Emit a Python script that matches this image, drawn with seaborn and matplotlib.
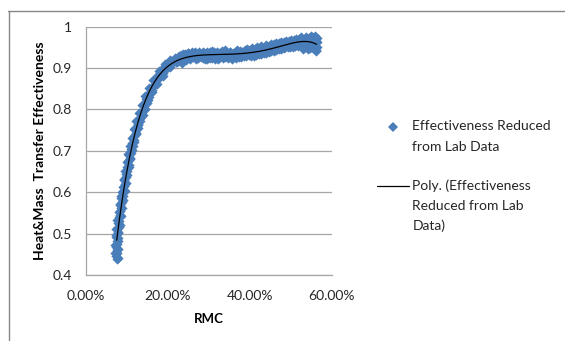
import numpy as np
import pandas as pd
import matplotlib
matplotlib.use("Agg")
import matplotlib.pyplot as plt
from matplotlib.lines import Line2D
from matplotlib.ticker import FuncFormatter
import seaborn as sns

# Lab measurements: regenerator moisture content (RMC, %) vs. effectiveness.
# Rising branch, first pass
rise_rmc_a = [
    7.5, 7.4, 7.6, 7.5, 7.3, 7.6, 7.5, 7.7, 7.4, 7.8, 7.6, 8.0, 7.8, 8.1, 8.0,
    8.3, 8.2, 8.5, 8.4, 8.7, 8.6, 9.0, 8.9, 9.3, 9.2, 9.5, 9.4, 9.8, 9.7, 10.1,
    10.0, 10.4, 10.3, 10.7, 10.6, 11.0, 10.9, 11.4, 11.3, 11.8, 11.7, 12.2,
    12.1, 12.7, 12.6, 13.2, 13.1, 13.8, 13.6, 14.3, 14.1, 14.8, 14.7, 15.5,
    15.3, 16.1, 16.0, 16.9, 16.8, 17.8, 17.6, 18.7, 18.5, 19.7, 19.5, 20.8,
    20.6, 21.9, 21.7,
]
rise_eff_a = [
    0.438, 0.447, 0.452, 0.461, 0.468, 0.474, 0.483, 0.490, 0.497, 0.503,
    0.510, 0.517, 0.525, 0.531, 0.540, 0.546, 0.555, 0.561, 0.570, 0.576,
    0.585, 0.591, 0.600, 0.606, 0.615, 0.621, 0.630, 0.636, 0.645, 0.651,
    0.660, 0.666, 0.675, 0.681, 0.690, 0.696, 0.705, 0.711, 0.720, 0.726,
    0.735, 0.741, 0.750, 0.756, 0.765, 0.771, 0.780, 0.786, 0.795, 0.801,
    0.810, 0.816, 0.825, 0.831, 0.840, 0.846, 0.855, 0.861, 0.870, 0.876,
    0.884, 0.889, 0.897, 0.901, 0.908, 0.911, 0.917, 0.918, 0.924,
]
# Rising branch, second pass
rise_rmc_b = [
    7.8, 7.2, 7.8, 7.2, 7.8, 7.25, 7.9, 7.4, 8.2, 7.65, 8.45, 7.95, 8.8, 8.3,
    9.15, 8.6, 9.45, 8.95, 9.75, 9.25, 10.1, 9.6, 10.45, 9.95, 10.8, 10.3,
    11.2, 10.7, 11.65, 11.15, 12.2, 11.6, 12.8, 12.2, 13.55, 12.9, 14.4, 13.7,
    15.2, 14.5, 16.2, 15.3, 17.3, 16.4, 18.9, 17.8, 20.4, 19.2, 22.0, 20.4,
]
rise_eff_b = [
    0.442, 0.452, 0.462, 0.472, 0.482, 0.492, 0.502, 0.512, 0.522, 0.532,
    0.542, 0.552, 0.562, 0.572, 0.582, 0.592, 0.602, 0.612, 0.622, 0.632,
    0.642, 0.652, 0.662, 0.672, 0.682, 0.692, 0.702, 0.712, 0.722, 0.732,
    0.742, 0.752, 0.762, 0.772, 0.782, 0.792, 0.802, 0.812, 0.822, 0.832,
    0.842, 0.852, 0.862, 0.872, 0.882, 0.892, 0.902, 0.910, 0.915, 0.920,
]
# Plateau, first pass
flat_rmc_a = [
    22.3, 22.6, 22.9, 23.2, 23.5, 23.8, 24.1, 24.4, 24.7, 25.0, 25.3, 25.6,
    25.9, 26.2, 26.5, 26.8, 27.1, 27.4, 27.7, 28.0, 28.3, 28.6, 28.9, 29.2,
    29.5, 29.8, 30.1, 30.4, 30.7, 31.0, 31.3, 31.6, 31.9, 32.2, 32.5, 32.8,
    33.1, 33.4, 33.7, 34.0, 34.3, 34.6, 34.9, 35.2, 35.5, 35.8, 36.1, 36.4,
    36.7, 37.0, 37.3, 37.6, 37.9, 38.2, 38.5, 38.8, 39.1, 39.4, 39.7, 40.0,
    40.3, 40.6, 40.9, 41.2, 41.5, 41.8, 42.1, 42.4, 42.7, 43.0, 43.3, 43.6,
    43.9, 44.2, 44.5, 44.8, 45.1, 45.4, 45.7, 46.0, 46.3, 46.6, 46.9, 47.2,
    47.5, 47.8, 48.1, 48.4, 48.7, 49.0, 49.3, 49.6, 49.9, 50.2, 50.5, 50.8,
    51.1, 51.4, 51.7, 52.0, 52.3, 52.6, 52.9, 53.2, 53.5, 53.8, 54.1, 54.4,
    54.7, 55.0, 55.3, 55.6, 55.9, 56.0, 56.2, 56.3, 56.4, 56.5,
]
flat_eff_a = [
    0.915, 0.928, 0.921, 0.931, 0.912, 0.926, 0.934, 0.919, 0.929, 0.936,
    0.924, 0.931, 0.938, 0.927, 0.933, 0.921, 0.935, 0.929, 0.939, 0.926,
    0.933, 0.924, 0.936, 0.930, 0.923, 0.935, 0.928, 0.938, 0.925, 0.932,
    0.940, 0.927, 0.934, 0.922, 0.936, 0.929, 0.942, 0.925, 0.933, 0.927,
    0.937, 0.924, 0.932, 0.938, 0.926, 0.934, 0.929, 0.939, 0.925, 0.935,
    0.930, 0.941, 0.927, 0.936, 0.931, 0.943, 0.928, 0.937, 0.933, 0.944,
    0.930, 0.939, 0.935, 0.946, 0.932, 0.941, 0.937, 0.948, 0.934, 0.944,
    0.940, 0.951, 0.937, 0.947, 0.943, 0.954, 0.941, 0.950, 0.946, 0.957,
    0.944, 0.953, 0.949, 0.960, 0.947, 0.956, 0.952, 0.963, 0.950, 0.959,
    0.955, 0.966, 0.952, 0.961, 0.957, 0.968, 0.954, 0.963, 0.959, 0.970,
    0.956, 0.965, 0.960, 0.971, 0.950, 0.966, 0.961, 0.972, 0.949, 0.968,
    0.975, 0.946, 0.970, 0.977, 0.944, 0.962, 0.973, 0.952,
]
# Plateau, second pass
flat_rmc_b = [
    22.45, 23.05, 23.65, 24.25, 24.85, 25.45, 26.05, 26.65, 27.25, 27.85,
    28.45, 29.05, 29.65, 30.25, 30.85, 31.45, 32.05, 32.65, 33.25, 33.85,
    34.45, 35.05, 35.65, 36.25, 36.85, 37.45, 38.05, 38.65, 39.25, 39.85,
    40.45, 41.05, 41.65, 42.25, 42.85, 43.45, 44.05, 44.65, 45.25, 45.85,
    46.45, 47.05, 47.65, 48.25, 48.85, 49.45, 50.05, 50.65, 51.25, 51.85,
    52.45, 53.05, 53.65, 54.25, 54.85, 55.45, 56.05, 56.15,
]
flat_eff_b = [
    0.926, 0.916, 0.934, 0.921, 0.937, 0.922, 0.933, 0.940, 0.924, 0.934,
    0.939, 0.922, 0.938, 0.924, 0.941, 0.923, 0.939, 0.926, 0.935, 0.943,
    0.928, 0.940, 0.923, 0.937, 0.944, 0.926, 0.940, 0.929, 0.946, 0.931,
    0.948, 0.930, 0.950, 0.933, 0.953, 0.936, 0.956, 0.939, 0.958, 0.942,
    0.961, 0.945, 0.964, 0.948, 0.966, 0.950, 0.969, 0.952, 0.971, 0.953,
    0.974, 0.946, 0.975, 0.945, 0.978, 0.950, 0.942, 0.966,
]

y_ticks = [0.4, 0.5, 0.6, 0.7, 0.8, 0.9, 1.0]
x_ticks = [0.0, 0.2, 0.4, 0.6]

series_lines = ["Effectiveness Reduced", "from Lab Data"]
trend_lines = ["Poly. (Effectiveness", "Reduced from Lab", "Data)"]

rmc_pct = rise_rmc_a + rise_rmc_b + flat_rmc_a + flat_rmc_b
effectiveness = rise_eff_a + rise_eff_b + flat_eff_a + flat_eff_b
df = pd.DataFrame({"RMC": np.array(rmc_pct) / 100.0,
                   "Effectiveness": effectiveness})

# 6th order polynomial trendline fitted to the measurements
coef = np.polyfit(df["RMC"], df["Effectiveness"], 6)
trend = pd.DataFrame({"RMC": np.linspace(0.075, df["RMC"].max() - 0.002, 300)})
trend["Effectiveness"] = np.polyval(coef, trend["RMC"])

sns.set_theme(style="white")
plt.rcParams["font.family"] = ["Lato", "DejaVu Sans"]

W, H = 565, 341
fig = plt.figure(figsize=(W / 100, H / 100), dpi=100)
ax = fig.add_axes([86 / W, 1 - 275 / H, 245.7 / W, 248.3 / H])

blue = "#4A7EBB"
grid_c = "#A6A6A6"
text_c = "#262626"

sns.scatterplot(data=df, x="RMC", y="Effectiveness", ax=ax, marker="D",
                s=27, color=blue, linewidth=0, legend=False, zorder=3)
sns.lineplot(data=trend, x="RMC", y="Effectiveness", ax=ax, color="black",
             linewidth=0.9, legend=False, zorder=4, sort=True)

ax.set_xlim(0, 0.6)
ax.set_ylim(0.4, 1.0)
ax.set_xticks(x_ticks)
ax.set_yticks(y_ticks)
ax.xaxis.set_major_formatter(FuncFormatter(lambda v, p: f"{v * 100:.2f}%"))
ax.yaxis.set_major_formatter(FuncFormatter(lambda v, p: f"{v:g}"))
ax.yaxis.grid(True, color=grid_c, linewidth=0.9)
ax.xaxis.grid(False)
ax.set_axisbelow(True)
for side in ("top", "right"):
    ax.spines[side].set_visible(False)
for side in ("left", "bottom"):
    ax.spines[side].set_color(grid_c)
    ax.spines[side].set_linewidth(0.9)
ax.tick_params(axis="both", length=0, labelsize=10, colors=text_c)
ax.tick_params(axis="y", pad=10)
ax.tick_params(axis="x", pad=11)

ax.set_xlabel("RMC", fontsize=9.5, fontweight="bold", color="black", labelpad=8)
ax.set_ylabel("Heat&Mass  Transfer Effectiveness", fontsize=10,
              fontweight="bold", color="black", labelpad=5)

# legend to the right of the plot area
def fx(px):
    return px / W

def fy(py):
    return 1 - py / H

fig.add_artist(Line2D([fx(393)], [fy(127)], transform=fig.transFigure,
                      marker="D", markersize=5, color=blue, markeredgewidth=0))
fig.add_artist(Line2D([fx(377), fx(409)], [fy(186)] * 2,
                      transform=fig.transFigure, color="black", linewidth=0.9))
for i, line in enumerate(series_lines):
    fig.text(fx(412.5), fy(126 + 20 * i + 4.5), line, fontsize=10,
             color=text_c, va="baseline", ha="left")
for i, line in enumerate(trend_lines):
    fig.text(fx(412.5), fy(186 + 20 * i + 4.5), line, fontsize=10,
             color=text_c, va="baseline", ha="left")

# chart-area border (top and left edges)
fig.add_artist(Line2D([fx(8), 1.0], [fy(10.5)] * 2,
                      transform=fig.transFigure, color="#888888", linewidth=1.0))
fig.add_artist(Line2D([fx(8.5)] * 2, [0, fy(10.5)],
                      transform=fig.transFigure, color="#888888", linewidth=1.0))

fig.savefig("out.png", dpi=100)
